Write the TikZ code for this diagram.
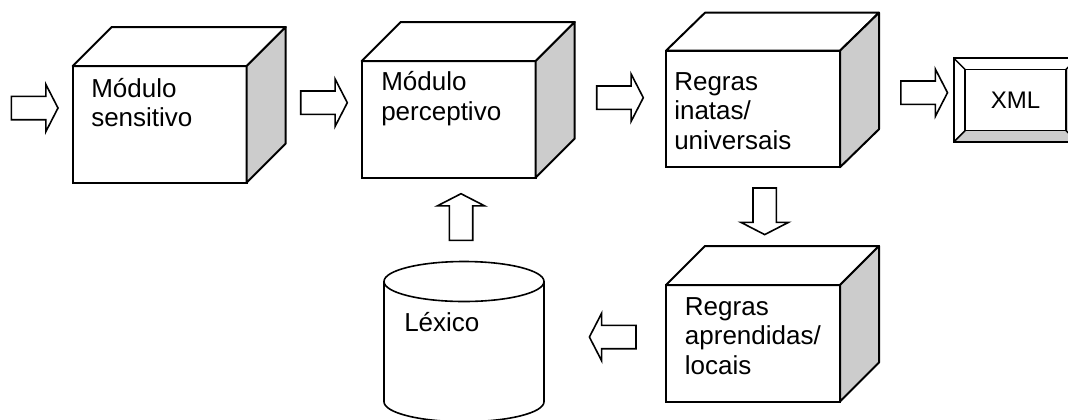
\documentclass[tikz,border=0pt]{standalone}
\usepackage{fontspec}
\setmainfont{Liberation Sans}
\usepackage{tikz}
\usepackage{xcolor}

\begin{document}
\begin{tikzpicture}[x=0.75pt,y=-0.75pt,
  every node/.style={font=\fontsize{19.5}{22}\selectfont},
  face/.style={draw,line width=1.5pt,fill=white,inner sep=0pt,outer sep=0pt,minimum width=130.5pt,minimum height=87.4pt},
  topface/.style={draw,line width=1.5pt,fill=white,line join=round},
  sideface/.style={draw,line width=1.5pt,fill=gray!40,line join=round},
  boxtext/.style={anchor=base west,align=left,inner sep=0pt},
  fat/.style={draw,line width=1.2pt,fill=white},
  fatarrow/.pic={\draw[fat] (-23.3,-11.7) -- (11.1,-11.7) -- (11.1,-23.7) -- (23.3,0) -- (11.1,23.7) -- (11.1,11.7) -- (-23.3,11.7) -- cycle;}]
\useasboundingbox (0,0) rectangle (1068,419);
\node[face,anchor=north west] (sens) at (72.7,66) {};
\draw[topface] (sens.north west) -- ++(39,-39) -- ++(174,0) -- (sens.north east) -- cycle;
\draw[sideface] (sens.north east) -- ++(39,-39) -- ++(0,116.5) -- (sens.south east) -- cycle;
\node[boxtext] (sensT) at (91,126.7) {Módulo\\sensitivo};
\node[face,anchor=north west] (perc) at (361.7,61) {};
\draw[topface] (perc.north west) -- ++(39,-39) -- ++(174,0) -- (perc.north east) -- cycle;
\draw[sideface] (perc.north east) -- ++(39,-39) -- ++(0,116.5) -- (perc.south east) -- cycle;
\node[boxtext] (percT) at (381,120) {Módulo\\perceptivo};
\node[face,anchor=north west] (inat) at (666,50.7) {};
\draw[topface] (inat.north west) -- ++(39,-38) -- ++(174,0) -- (inat.north east) -- cycle;
\draw[sideface] (inat.north east) -- ++(39,-38) -- ++(0,116.5) -- (inat.south east) -- cycle;
\node[boxtext] (inatT) at (674,149) {Regras\\inatas/\\universais};
\node[face,anchor=north west] (apre) at (666,285) {};
\draw[topface] (apre.north west) -- ++(39,-39) -- ++(174,0) -- (apre.north east) -- cycle;
\draw[sideface] (apre.north east) -- ++(39,-39) -- ++(0,116.5) -- (apre.south east) -- cycle;
\node[boxtext] (apreT) at (684.7,374.3) {Regras\\aprendidas/\\locais};
\node[draw,line width=1.5pt,inner sep=0pt,outer sep=0pt,minimum width=92.25pt,minimum height=62.55pt,font=\fontsize{18}{21}\selectfont] (xml) at (1015.5,100) {XML};
\fill[gray!40] (xml.south west) -- ++(11,-11) -- ([shift={(-11,-11)}]xml.south east) -- ([shift={(-11,11)}]xml.north east) -- (xml.north east) -- (xml.south east) -- cycle;
\draw[line width=1.5pt] (xml.south west) rectangle (xml.north east);
\draw[line width=1.1pt] ([shift={(11,11)}]xml.north west) rectangle ([shift={(-11,-11)}]xml.south east);
\draw[line width=1.1pt] (xml.north west) -- ++(11,11) (xml.south west) -- ++(11,-11) (xml.north east) -- ++(-11,11) (xml.south east) -- ++(-11,-11);
\draw[line width=1.2pt,fill=white] (384,281.5) -- (384,401.7) arc[start angle=180,end angle=0,x radius=80,y radius=20] -- (544,281.5);
\draw[line width=1.2pt,fill=white] (464,281.5) ellipse[x radius=80,y radius=20];
\node[boxtext] (lex) at (404,331.7) {Léxico};
\pic at (34.7,108) {fatarrow};
\pic at (324,102.7) {fatarrow};
\pic at (620,97.7) {fatarrow};
\pic at (924.2,92.7) {fatarrow};
\pic[rotate=-90] at (764.7,211.3) {fatarrow};
\pic[rotate=90] at (461,217) {fatarrow};
\pic[rotate=180] at (612.7,337) {fatarrow};
\end{tikzpicture}
\end{document}
